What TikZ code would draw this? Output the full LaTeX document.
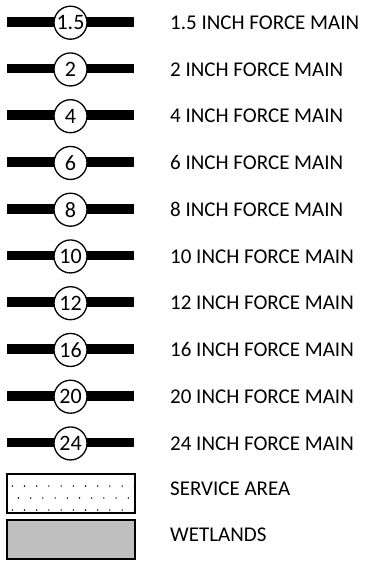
\documentclass[tikz,border=0pt]{standalone}
\usepackage{fontspec}
\setmainfont{Carlito}
\definecolor{wetgray}{HTML}{C0C0C0}

\begin{document}
\begin{tikzpicture}[x=1pt, y=-1pt,
  pipe/.style={fill=black},
  sizetag/.style={circle, draw=black, line width=1.3pt, fill=white, minimum size=33pt, inner sep=0pt, font=\fontsize{22}{22}\selectfont},
  legendtext/.style={anchor=west, inner sep=0pt, font=\fontsize{21}{24}\selectfont},
  areabox/.style={draw=black, line width=2pt}
]
  \useasboundingbox (0,0) rectangle (364,562);

  % force main sizes
  \foreach \sz [count=\i from 0] in {1.5,2,4,6,8,10,12,16,20,24}{
    \pgfmathsetmacro{\yy}{21.7+46.75*\i}
    \fill[pipe] (7,\yy-4.8) rectangle (134,\yy+4.8);
    \node[sizetag] (tag\i) at (70.5,\yy+1) {\sz};
    \node[legendtext] (lbl\i) at (170,\yy+1) {\sz{} INCH FORCE MAIN};
  }

  % service area
  \begin{scope}
    \clip (7,474) rectangle (135,513);
    \foreach \r [count=\k from 0] in {474,486,498,510}{
      \pgfmathsetmacro{\xo}{mod(\k,2)==0 ? 18.5 : 12.3}
      \foreach \c in {0,...,10}
        \fill (\xo+12.2*\c,\r) circle (0.8);
    }
  \end{scope}
  \draw[areabox] (7,474) rectangle (135,513);
  \node[legendtext] (svc) at (170,489) {SERVICE AREA};

  % wetlands
  \draw[areabox, fill=wetgray] (7,520) rectangle (135,559);
  \node[legendtext] (wet) at (170,535) {WETLANDS};
\end{tikzpicture}
\end{document}
